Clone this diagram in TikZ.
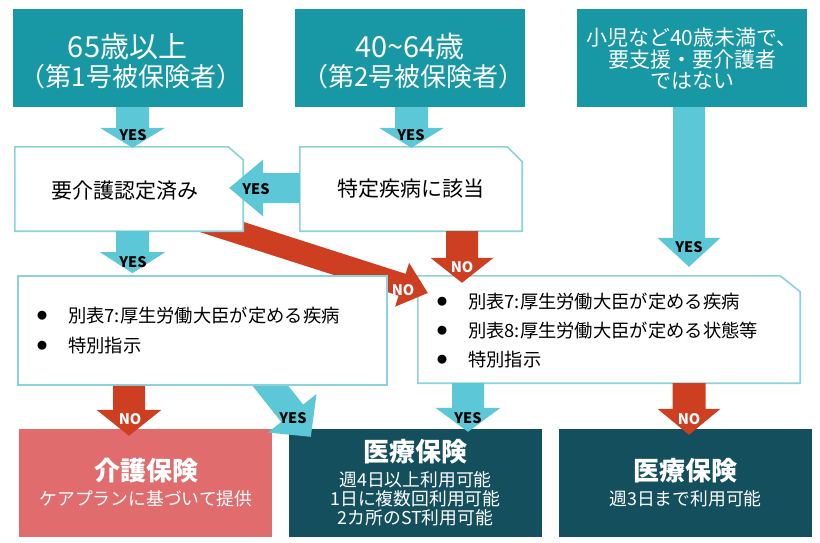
\documentclass[tikz,border=0pt]{standalone}
\usepackage{fontspec}
\setmainfont{Noto Sans CJK JP}
\usetikzlibrary{calc}
\definecolor{topteal}{RGB}{23,152,164}
\definecolor{arrcyan}{RGB}{92,200,215}
\definecolor{bordcyan}{RGB}{140,210,220}
\definecolor{arrred}{RGB}{206,63,33}
\definecolor{salmonbox}{RGB}{225,108,110}
\definecolor{darkteal}{RGB}{19,79,93}
% #1 colour, #2 from, #3 tip, #4 shaft half width, #5 head half width, #6 head length
\newcommand{\blockarrow}[6]{%
  \coordinate (bah) at ($(#3)!#6!(#2)$);
  \fill[#1] ($(#2)!#4!90:(#3)$) -- ($(bah)!#4!90:(#3)$) -- ($(bah)!#5!90:(#3)$) -- (#3)
    -- ($(bah)!#5!-90:(#3)$) -- ($(bah)!#4!-90:(#3)$) -- ($(#2)!#4!-90:(#3)$) -- cycle;}
\begin{document}
\begin{tikzpicture}[x=1pt,y=-1pt,
  topbox/.style={fill=topteal, minimum width=230pt, minimum height=98pt, inner sep=0pt},
  toptxt/.style={text=white, align=center, inner sep=0pt},
  wbox/.style={fill=white, minimum height=84pt, inner sep=0pt, font=\fontsize{21}{24}\selectfont},
  bord/.style={draw=bordcyan, line width=1.6pt},
  botbox/.style={minimum width=253pt, minimum height=108pt, inner sep=0pt},
  bottitle/.style={text=white, inner sep=0pt, font=\bfseries\fontsize{26}{28}\selectfont},
  botsub/.style={text=white, inner sep=0pt, align=center, font=\fontsize{17.8}{18.8}\selectfont},
  yeslab/.style={text=black, inner sep=0pt, font=\bfseries\fontsize{14.5}{14.5}\selectfont},
  nolab/.style={text=white, inner sep=0pt, font=\bfseries\fontsize{14.5}{14.5}\selectfont},
  listtxt/.style={anchor=west, inner sep=0pt, font=\fontsize{18.3}{20}\selectfont},
  bulletdot/.style={inner sep=0pt, font=\fontsize{10}{10}\selectfont}]
\useasboundingbox (0,0) rectangle (820,543);
\fill[white] (0,0) rectangle (820,543);

% top boxes
\node[topbox] (A) at (127.5,58) {};
\node[toptxt, font=\fontsize{29}{30}\selectfont] (At1) at (127.5,46.5) {65歳以上};
\node[toptxt, font=\fontsize{26}{30}\selectfont] (At2) at (131,77) {（第1号被保険者）};
\node[topbox] (B) at (410,58) {};
\node[toptxt, font=\fontsize{29}{30}\selectfont] (Bt1) at (410,46.5) {40\textasciitilde64歳};
\node[toptxt, font=\fontsize{26}{30}\selectfont] (Bt2) at (413.5,77) {（第2号被保険者）};
\node[topbox] (C) at (692,58) {};
\node[toptxt, font=\fontsize{21}{21.5}\selectfont] (Ct) at (692,59) {小児など40歳未満で、\\要支援・要介護者\\ではない};

% middle / list boxes drawn before the red arrow
\node[wbox, minimum width=222pt] (bx2) at (411,189) {特定疾病に該当};
\draw[bord] (bx2.south west) -- (bx2.north west) -- ([xshift=-15pt]bx2.north east)
  -- ([yshift=-15pt]bx2.north east) -- (bx2.south east) -- cycle;
\node[fill=white, minimum width=382pt, minimum height=107pt, inner sep=0pt] (bx4) at (609,329.5) {};
\draw[bord] (bx4.south west) -- (bx4.north west) -- ([xshift=-20pt]bx4.north east)
  -- ([yshift=-16pt]bx4.north east) -- (bx4.south east) -- cycle;

% bottom boxes
\node[botbox, fill=salmonbox] (K) at (145.5,483) {};
\node[botbox, fill=darkteal] (I1) at (415.5,483) {};
\node[botbox, fill=darkteal] (I2) at (685.5,483) {};

% arrows whose tails are hidden under boxes
\coordinate (r7s) at ($(bx4.west)+(-218,-109.5)$);
\coordinate (r7t) at ($(bx4.west)+(10,-36.5)$);
\blockarrow{arrred}{r7s}{r7t}{11.5pt}{23pt}{27pt}
\coordinate (y9s) at ($(I1.north west)+(-39,-69)$);
\coordinate (y9t) at ($(I1.north west)+(22,8)$);
\blockarrow{arrcyan}{y9s}{y9t}{14pt}{31pt}{30pt}

% boxes over those tails
\node[wbox, minimum width=228pt] (bx1) at (129,189) {};
\node[inner sep=0pt, font=\fontsize{21}{24}\selectfont] (bx1t) at (125,191) {要介護認定済み};
\draw[bord] (bx1.south west) -- (bx1.north west) -- ([xshift=-15pt]bx1.north east)
  -- ([yshift=-13pt]bx1.north east) -- (bx1.south east) -- cycle;
\node[fill=white, draw=bordcyan, line width=1.6pt, minimum width=369pt, minimum height=109pt, inner sep=0pt] (bx3) at (202.5,330.5) {};

% list texts
\node[bulletdot] (b31) at (42,316) {●};
\node[listtxt] (t31) at (68,316) {別表7:厚生労働大臣が定める疾病};
\node[bulletdot] (b32) at (42,346) {●};
\node[listtxt] (t32) at (68,346) {特別指示};
\node[bulletdot] (b41) at (442,302) {●};
\node[listtxt] (t41) at (468,302) {別表7:厚生労働大臣が定める疾病};
\node[bulletdot] (b42) at (442,331) {●};
\node[listtxt] (t42) at (468,331) {別表8:厚生労働大臣が定める状態等};
\node[bulletdot] (b43) at (442,360) {●};
\node[listtxt] (t43) at (468,360) {特別指示};

% bottom texts
\node[bottitle] (Kt) at (146,471) {介護保険};
\node[botsub] (Ks) at (146,499) {ケアプランに基づいて提供};
\node[bottitle] (I1t) at (415.5,452) {医療保険};
\node[botsub] (I1s) at (415.5,498.5) {週4日以上利用可能\\1日に複数回利用可能\\2カ所のST利用可能};
\node[bottitle] (I2t) at (685.5,471) {医療保険};
\node[botsub] (I2s) at (685.5,499) {週3日まで利用可能};

% remaining arrows
\coordinate (a1s) at ($(A.south)+(5,0)$);
\coordinate (a1t) at ($(bx1.north)+(3.5,1)$);
\blockarrow{arrcyan}{a1s}{a1t}{16.5pt}{32.5pt}{20pt}
\coordinate (a2s) at ($(B.south)+(1.5,0)$);
\coordinate (a2t) at ($(bx2.north)+(0.5,1)$);
\blockarrow{arrcyan}{a2s}{a2t}{16.5pt}{32.5pt}{20pt}
\coordinate (a3s) at ($(bx2.west)+(0,-1)$);
\coordinate (a3t) at ($(bx1.east)+(-14,-1)$);
\blockarrow{arrcyan}{a3s}{a3t}{15pt}{28.5pt}{34pt}
\coordinate (a4s) at ($(bx1.south)+(3.5,0)$);
\coordinate (a4t) at ($(bx3.north)+(-70,-2)$);
\blockarrow{arrcyan}{a4s}{a4t}{16.5pt}{32.5pt}{21pt}
\coordinate (a5s) at ($(bx2.south)+(51,0)$);
\coordinate (a5t) at ($(bx4.north)+(-147,7)$);
\blockarrow{arrred}{a5s}{a5t}{16pt}{31.5pt}{25pt}
\coordinate (a6s) at ($(C.south)+(-3,0)$);
\coordinate (a6t) at ($(bx4.north)+(80,-9)$);
\blockarrow{arrcyan}{a6s}{a6t}{16pt}{31.5pt}{29pt}
\coordinate (a8s) at ($(bx3.south)+(-73.5,0)$);
\coordinate (a8t) at ($(K.north)+(-16.5,7)$);
\blockarrow{arrred}{a8s}{a8t}{16pt}{32.5pt}{26pt}
\coordinate (a10s) at ($(bx4.south)+(-141,0)$);
\coordinate (a10t) at ($(I1.north)+(52.5,3)$);
\blockarrow{arrcyan}{a10s}{a10t}{16pt}{32.5pt}{24pt}
\coordinate (a11s) at ($(bx4.south)+(80,0)$);
\coordinate (a11t) at ($(I2.north)+(3.5,6)$);
\blockarrow{arrred}{a11s}{a11t}{16.5pt}{31.5pt}{26pt}

% labels
\node[yeslab] (l1) at (133,135) {YES};
\node[yeslab] (l2) at (411,135) {YES};
\node[yeslab] (l3) at (256,189) {YES};
\node[yeslab] (l4) at (133,262) {YES};
\node[nolab] (l5) at (462,267) {NO};
\node[yeslab] (l6) at (689,247) {YES};
\node[nolab] (l7) at (403,290) {NO};
\node[nolab] (l8) at (130,419) {NO};
\node[yeslab] (l9) at (293,418) {YES};
\node[yeslab] (l10) at (468,418) {YES};
\node[nolab] (l11) at (689,419) {NO};
\end{tikzpicture}
\end{document}
